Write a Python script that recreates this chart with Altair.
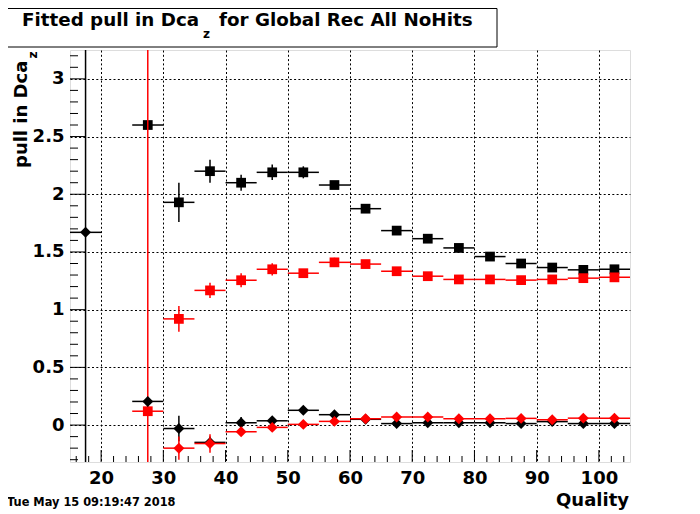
import altair as alt
import pandas as pd

# ---------------- data ----------------
x_centers = [17.5, 22.5, 27.5, 32.5, 37.5, 42.5, 47.5, 52.5, 57.5, 62.5,
             67.5, 72.5, 77.5, 82.5, 87.5, 92.5, 97.5, 102.5]
bin_half = 2.5

black_sq = [None, None, 2.60, 1.93, 2.20, 2.10, 2.19, 2.19, 2.08, 1.875,
            1.685, 1.615, 1.535, 1.46, 1.40, 1.365, 1.345, 1.35]
black_sq_err = [0, 0, 0.01, 0.17, 0.10, 0.07, 0.067, 0.052, 0.03, 0.02,
                0.015, 0.015, 0.015, 0.015, 0.015, 0.015, 0.015, 0.015]

red_sq = [None, None, 0.12, 0.92, 1.167, 1.255, 1.35, 1.316, 1.41, 1.395,
          1.333, 1.29, 1.262, 1.262, 1.256, 1.262, 1.273, 1.28]
red_sq_err = [0, 0, 10.0, 0.112, 0.067, 0.06, 0.053, 0.03, 0.04, 0.02,
              0.02, 0.02, 0.02, 0.02, 0.02, 0.02, 0.02, 0.02]

black_di = [1.67, None, 0.205, -0.03, -0.15, 0.02, 0.037, 0.128, 0.09, 0.05,
            0.013, 0.02, 0.02, 0.02, 0.013, 0.03, 0.013, 0.013]
black_di_err = [10.0, 0, 0.01, 0.11, 0.05, 0.05, 0.03, 0.02, 0.02, 0.01,
                0.01, 0.01, 0.01, 0.01, 0.01, 0.01, 0.01, 0.01]

red_di = [None, None, None, -0.20, -0.16, -0.058, -0.02, 0.006, 0.032, 0.055,
          0.07, 0.07, 0.055, 0.055, 0.058, 0.046, 0.06, 0.06]
red_di_err = [0, 0, 0, 0.10, 0.08, 0.03, 0.02, 0.01, 0.01, 0.01,
              0.01, 0.01, 0.01, 0.01, 0.01, 0.01, 0.01, 0.01]

series = [
    ("black_sq", black_sq, black_sq_err, "#000000", "square"),
    ("red_sq", red_sq, red_sq_err, "#ff0000", "square"),
    ("black_di", black_di, black_di_err, "#000000", "diamond"),
    ("red_di", red_di, red_di_err, "#ff0000", "diamond"),
]

x_major = [20, 30, 40, 50, 60, 70, 80, 90, 100]
x_minor = [v for v in range(16, 105, 2) if v % 10 != 0]
y_major = [0, 0.5, 1, 1.5, 2, 2.5, 3]
y_minor = [round(-0.3 + 0.1 * i, 2) for i in range(36)]
y_minor = [v for v in y_minor if abs(v * 2 - round(v * 2)) > 1e-6]

title_main = "Fitted pull in Dca"
title_sub = "z"
title_rest = "for Global Rec All NoHits"
ytitle_main = "pull in Dca"
ytitle_sub = "z"
xtitle = "Quality"
date_text = "Tue May 15 09:19:47 2018"

W, H = 560, 412
FONT = "DejaVu Sans"

xs = alt.Scale(domain=[15, 105], nice=False, zero=False)
ys = alt.Scale(domain=[-0.32, 3.25], nice=False, zero=False)

x_axis = alt.Axis(
    values=x_major, grid=True, gridDash=[2, 2.3], gridColor="black",
    gridOpacity=1, gridWidth=1, ticks=False, tickSize=0, domain=False,
    labelFont=FONT, labelFontWeight="bold", labelFontSize=18,
    labelColor="black", labelPadding=7, title=None, labelFlush=False)
y_axis = alt.Axis(
    values=y_major, grid=True, gridDash=[2, 2.3], gridColor="black",
    gridOpacity=1, gridWidth=1, ticks=False, tickSize=0, domain=False,
    labelFont=FONT, labelFontWeight="bold", labelFontSize=18,
    labelColor="black", labelPadding=6, title=None, format="~g",
    labelFlush=False)


def X(field):
    return alt.X(field, scale=xs, axis=x_axis)


def Y(field):
    return alt.Y(field, scale=ys, axis=y_axis)


layers = []

# tick marks (inside the frame)
xt_major = alt.Chart(pd.DataFrame({"v": x_major})).mark_rule(color="black", strokeWidth=1).encode(
    x=X("v:Q"), y=alt.value(H), y2=alt.value(H - 12))
xt_minor = alt.Chart(pd.DataFrame({"v": x_minor})).mark_rule(color="black", strokeWidth=1).encode(
    x=X("v:Q"), y=alt.value(H), y2=alt.value(H - 6))
yt_major = alt.Chart(pd.DataFrame({"v": y_major})).mark_rule(color="black", strokeWidth=1).encode(
    y=Y("v:Q"), x=alt.value(0), x2=alt.value(15))
yt_minor = alt.Chart(pd.DataFrame({"v": y_minor})).mark_rule(color="black", strokeWidth=1).encode(
    y=Y("v:Q"), x=alt.value(0), x2=alt.value(8))
layers += [xt_major, xt_minor, yt_major, yt_minor]

# ---------------- data series ----------------
for name, vals, errs, col, shape in series:
    rows = []
    for xc, v, e in zip(x_centers, vals, errs):
        if v is None:
            continue
        rows.append({"x": xc, "xlo": xc - bin_half, "xhi": xc + bin_half,
                     "y": v, "ylo": v - e, "yhi": v + e})
    df = pd.DataFrame(rows)
    base = alt.Chart(df)
    hbar = base.mark_rule(color=col, strokeWidth=1.5, clip=True).encode(
        x=X("xlo:Q"), x2="xhi:Q", y=Y("y:Q"))
    vbar = base.mark_rule(color=col, strokeWidth=1.5, clip=True).encode(
        x=X("x:Q"), y=Y("ylo:Q"), y2="yhi:Q")
    pts = base.mark_point(shape=shape, filled=True, size=95 if shape == "square" else 120,
                          color=col, opacity=1, clip=True).encode(
        x=X("x:Q"), y=Y("y:Q"))
    layers += [hbar, vbar, pts]

# ---------------- texts / decorations ----------------
one = pd.DataFrame({"a": [0]})

title_box = alt.Chart(one).mark_rect(fill="white", stroke="black", strokeWidth=1).encode(
    x=alt.value(-62.5), x2=alt.value(427), y=alt.value(-41.5), y2=alt.value(-3))


def txt(text, x, y, size, align="left", angle=0, baseline="alphabetic"):
    kw = dict(text=text, font=FONT, fontWeight="bold", fontSize=size,
              align=align, baseline=baseline, color="black")
    if angle:
        kw["angle"] = angle
    return alt.Chart(one).mark_text(**kw).encode(x=alt.value(x), y=alt.value(y))


texts = [
    title_box,
    txt(title_main, -48, -24, 18.3),
    txt(title_sub, 133, -12, 12),
    txt(title_rest, 149, -24, 18.3),
    txt(ytitle_main, -43, 118, 18),
    txt(ytitle_sub, -33, 5, 12, align="center"),
    txt(xtitle, 559, 456, 18, align="right"),
    txt(date_text, -63, 456, 11.4),
]
texts[4] = txt(ytitle_main, -43, 118, 18, angle=270)
texts[5] = txt(ytitle_sub, -33, 5, 12, align="center", angle=270)
layers += texts

chart = alt.layer(*layers).properties(
    width=W, height=H,
    padding={"left": 62, "top": 42, "right": 8, "bottom": 48},
    autosize=alt.AutoSizeParams(type="none"),
).configure_view(stroke="black", strokeWidth=1).configure(background="white")

chart.save("out.html", embed_options={"renderer": "svg", "actions": False})
